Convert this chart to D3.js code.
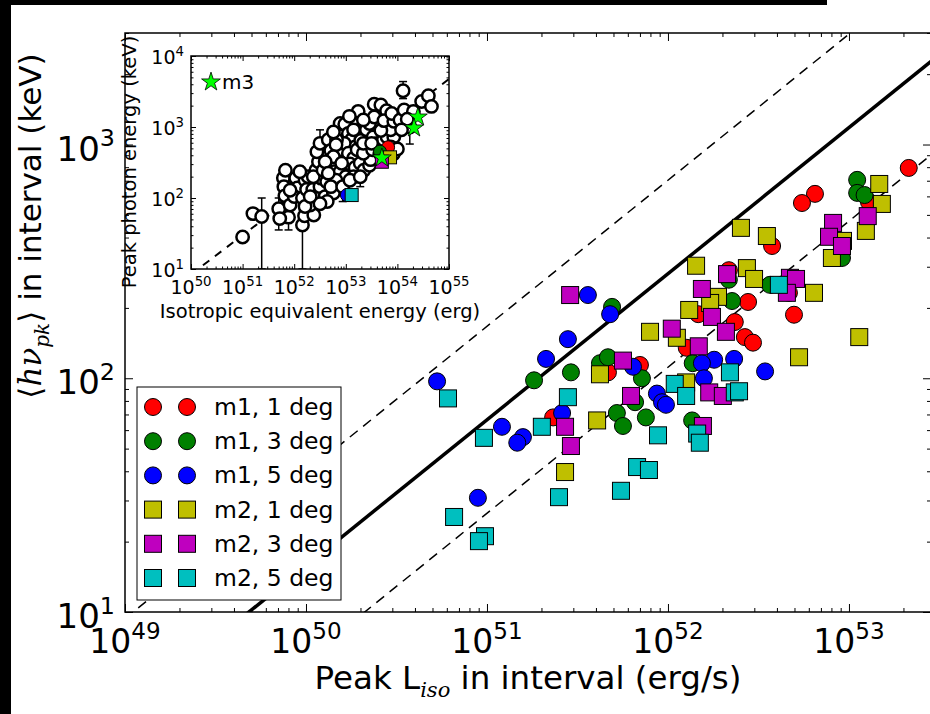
<!DOCTYPE html>
<html lang="en">
<head>
<meta charset="UTF-8">
<title>Peak photon energy vs peak luminosity</title>
<script src="https://d3js.org/d3.v7.min.js"></script>
<style>
  body { margin: 0; background: #fff; }
  text { font-family: "DejaVu Sans", sans-serif; fill: #000; }
  .math { font-family: "DejaVu Serif", serif; font-style: italic; }
</style>
</head>
<body>
<div id="chart"></div>
<script>
// main panel: [peak L_iso (erg/s), <h nu_pk> (keV)] per interval
const m1deg1 = [[2.14e53,794],[6.49e52,615],[5.50e52,562],[3.76e52,368],[2.17e52,290],[2.77e52,212],[4.97e52,187],[4.66e52,232],[2.34e52,174],[2.66e52,150],[2.95e52,142],[1.47e52,188],[1.27e52,135],[1.29e53,568],[2.32e51,68],[4.66e51,106],[7.0e51,114]];
const m1deg3 = [[1.11e53,706],[1.11e53,621],[1.22e53,608],[9.15e52,327],[3.66e52,251],[2.17e52,264],[2.26e52,214],[1.37e52,116],[4.91e51,202],[2.91e51,106],[1.82e51,98],[4.21e51,116],[4.66e51,123],[7.18e51,100],[6.58e51,79],[5.22e51,71],[5.64e51,62.5],[7.55e51,68],[1.36e52,66]];
const m1deg5 = [[3.61e51,227],[4.79e51,188],[2.80e51,147],[2.12e51,121],[5.30e50,97],[6.41e51,112],[8.69e51,86],[9.27e51,79],[9.75e51,77],[2.60e51,71],[1.21e51,62],[1.58e51,56],[1.47e51,53],[8.91e50,30.8],[1.80e52,120],[1.54e52,116],[2.32e52,121],[3.44e52,107],[1.58e52,100]];
const m2deg1 = [[1.47e53,678],[1.52e53,557],[1.24e53,427],[9.27e52,387],[8.05e52,327],[3.52e52,406],[2.53e52,440],[1.43e52,303],[2.73e52,296],[2.99e52,266],[1.89e52,223],[1.71e52,210],[1.31e52,196],[7.96e51,158],[1.12e52,149],[6.41e52,232],[1.14e53,150],[5.30e52,123],[1.26e52,96],[4.21e51,104],[4.06e51,66],[2.70e51,39.7]];
const m2deg3 = [[8.17e52,462],[7.76e52,403],[9.15e52,368],[1.27e53,494],[2.12e52,279],[1.54e52,241],[4.72e52,269],[5.10e52,266],[4.54e52,232],[1.75e52,183],[2.09e52,158],[1.05e52,163],[1.48e52,137],[1.69e52,87],[2.01e52,84],[2.88e51,227],[5.64e51,119],[6.25e51,84],[2.70e51,62],[2.91e51,51.3],[1.56e52,62.5]];
const m2deg5 = [[4.10e52,251],[2.20e52,106],[1.09e52,94.6],[1.26e52,84],[2.34e52,87],[2.47e52,88],[2.80e51,83],[6.09e50,82],[2.01e51,62],[9.62e50,55.6],[8.81e51,57],[6.75e51,41.7],[7.85e51,40.5],[5.50e51,33.0],[2.50e51,31.0],[6.58e50,25.5],[9.75e50,21.1],[9.03e50,20.1],[1.45e52,58],[1.50e52,53]];

const seriesNames = ["m1, 1 deg", "m1, 3 deg", "m1, 5 deg", "m2, 1 deg", "m2, 3 deg", "m2, 5 deg"];
const seriesColors = ["#ff0000", "#008000", "#0000ff", "#bfbf00", "#bf00bf", "#00bfbf"];
const seriesShapes = ["circle", "circle", "circle", "square", "square", "square"];
const seriesData = [m1deg1, m1deg3, m1deg5, m2deg1, m2deg3, m2deg5];

// Yonetoku-type relation: Ep = 280 keV (L/1e52)^0.625, dashed = +-0.4 dex
const relMain = { norm: 280, slope: 0.625, scatter: 0.4 };

// inset: observed bursts, [log10 Eiso (erg), log10 Ep (keV)]
const insetBursts = [[51.00,1.45],[51.20,1.78],[51.37,1.74],[51.70,1.85],[51.89,1.73],[52.16,1.62],[52.20,1.75],[52.38,1.76],
  [51.79,2.28],[51.83,2.39],[51.80,2.16],[51.82,2.03],[51.92,1.90],[52.03,2.28],[52.06,2.14],[52.00,2.02],[52.16,2.00],[52.21,2.25],
  [52.24,2.12],[52.36,2.12],[52.44,2.02],[52.50,2.16],[52.27,2.30],[52.42,2.39],[52.52,2.28],[52.63,2.23],[52.60,2.02],[52.76,2.07],
  [52.64,1.95],[52.47,2.51],[52.44,2.65],[52.50,2.77],[52.66,2.82],[52.76,2.49],[52.82,2.61],[52.89,2.68],[52.71,2.67],[52.77,2.37],
  [52.89,2.96],[52.89,3.05],[52.98,3.04],[53.05,2.91],[53.11,2.82],[53.18,2.72],[52.97,2.77],[53.05,2.63],[53.15,2.56],[53.22,2.68],
  [53.08,2.48],[53.18,2.43],[52.89,2.37],[53.00,2.30],[53.28,2.49],[53.35,2.39],[53.46,2.46],[53.48,2.54],[53.29,2.81],[53.40,2.96],
  [53.53,2.86],[53.61,2.77],[53.73,2.82],[53.80,2.86],[53.93,2.86],[53.87,2.96],[53.68,2.95],[53.24,3.22],[53.46,3.05],[53.55,3.32],
  [53.68,3.31],[53.79,3.23],[53.55,3.14],[53.74,3.09],[53.93,3.08],[53.89,3.19],[54.11,3.51],[54.05,3.10],[54.13,3.24],[54.24,3.00],
  [54.47,3.36],[54.60,3.44],[54.66,3.29],[54.31,3.22],[53.92,2.62],[53.87,2.72],[54.00,2.69],[52.81,2.25],[52.71,2.16],[52.94,2.16],
  [53.15,2.30],[52.31,1.90],[52.50,1.92],[52.21,1.88],[53.34,2.63],[53.52,2.68],[53.66,2.63],[52.82,2.82],[52.76,2.93],[53.15,2.96],
  [53.34,3.10],[53.07,3.15],[52.81,2.75],[53.34,2.77],[53.50,2.77],[52.37,2.30],[52.56,2.39],[51.72,1.71],[54.19,3.11],[54.08,2.96],
  [53.79,2.65],[53.08,2.25],[53.28,2.30],[52.76,2.58],[52.92,2.49],[52.60,2.51],[52.66,2.35],[52.31,2.02],[52.11,2.37],[51.92,2.11]];
// error bars: [log10 Eiso, log10 Ep low, log10 Ep high]
const insetErrors = [[51.00,1.38,1.52],[51.37,1.0,2.0],[51.70,1.55,2.0],[51.89,1.55,1.90],[52.16,1.0,1.83],[54.24,2.76,3.20],
  [54.11,3.40,3.64],[52.94,1.95,2.30],[53.28,2.16,2.40],[52.50,2.60,2.96],[53.55,3.20,3.38],[52.11,2.25,2.45]];
// inset model points: [Eiso (erg), Ep (keV)], order as main series
const insetModels = [[6.6e53,518],[4.6e53,449],[1.05e53,110],[7.2e53,374],[5.0e53,324],[1.3e53,110]];
const insetM3 = [[5.0e53,366],[2.5e54,1380],[2.1e54,968]];
// Amati-type relation in the inset: Ep = 106 keV (Eiso/1e52)^0.55
const relInset = { norm: 106, slope: 0.55 };

const W = 930, H = 714;
const svg = d3.select("#chart").append("svg").attr("width", W).attr("height", H);
svg.append("rect").attr("width", W).attr("height", H).attr("fill", "#fff");

// main axes
const x = d3.scaleLog().domain([1e49, 2.84e53]).range([125, 931]);
const y = d3.scaleLog().domain([10, 3000]).range([612, 33]);

function logTicks(dom) {
  const major = [], minor = [];
  const a = Math.floor(Math.log10(dom[0])), b = Math.ceil(Math.log10(dom[1]));
  for (let d = a; d <= b; d++) {
    for (let k = 1; k <= 9; k++) {
      const v = k * Math.pow(10, d);
      if (v < dom[0] * 0.999 || v > dom[1] * 1.001) continue;
      (k === 1 ? major : minor).push(v);
    }
  }
  return { major, minor };
}

function frame(g, xs, ys, maj, mnr, lw) {
  const [x0, x1] = xs.range(), [y0, y1] = ys.range();
  const xt = logTicks(xs.domain()), yt = logTicks(ys.domain());
  const sides = [
    [d3.axisBottom, xs, xt, `translate(0,${y0})`],
    [d3.axisTop, xs, xt, `translate(0,${y1})`],
    [d3.axisLeft, ys, yt, `translate(${x0},0)`],
    [d3.axisRight, ys, yt, `translate(${x1},0)`]
  ];
  sides.forEach(([ax, s, t, tr]) => {
    [[t.major, maj], [t.minor, mnr]].forEach(([vals, len]) => {
      g.append("g").attr("transform", tr)
        .call(ax(s).tickValues(vals).tickSize(-len).tickFormat(""))
        .call(a => a.select(".domain").remove())
        .selectAll("line").attr("stroke", "#000").attr("stroke-width", 1);
    });
  });
  g.append("rect").attr("x", x0).attr("y", y1).attr("width", x1 - x0).attr("height", y0 - y1)
    .attr("fill", "none").attr("stroke", "#000").attr("stroke-width", lw);
  return { xt, yt };
}

function powLabel(t, v, size) {
  t.attr("font-size", size);
  t.append("tspan").text("10");
  t.append("tspan").attr("dy", -0.42 * size).attr("font-size", 0.7 * size)
    .text(Math.round(Math.log10(v)));
}

const main = svg.append("g");
svg.append("clipPath").attr("id", "clipMain").append("rect")
  .attr("x", 125).attr("y", 33).attr("width", 806).attr("height", 579);

// relation lines
const lineMain = d3.line().x(d => x(d[0])).y(d => y(d[1]));
const relPts = off => x.domain().map(L => [L, relMain.norm * Math.pow(L / 1e52, relMain.slope) * Math.pow(10, off)]);
const lines = main.append("g").attr("clip-path", "url(#clipMain)");
lines.append("path").datum(relPts(0)).attr("d", lineMain)
  .attr("fill", "none").attr("stroke", "#000").attr("stroke-width", 3.5);
[relMain.scatter, -relMain.scatter].forEach(off => {
  lines.append("path").datum(relPts(off)).attr("d", lineMain)
    .attr("fill", "none").attr("stroke", "#000").attr("stroke-width", 1.5).attr("stroke-dasharray", "10,7");
});

// markers
function marker(sel, shape, size) {
  if (shape === "circle") return sel.append("circle").attr("r", size / 2);
  return sel.append("rect").attr("x", -size / 2).attr("y", -size / 2).attr("width", size).attr("height", size);
}
const pts = main.append("g");
seriesData.forEach((data, i) => {
  data.forEach(d => {
    const g = pts.append("g").attr("transform", `translate(${x(d[0])},${y(d[1])})`);
    marker(g, seriesShapes[i], 17).attr("fill", seriesColors[i]).attr("stroke", "#000").attr("stroke-width", 1);
  });
});

const mt = frame(main, x, y, 8, 4, 1.5);
mt.xt.major.forEach(v => powLabel(main.append("text").attr("x", x(v)).attr("y", 653).attr("text-anchor", "middle"), v, 33));
mt.yt.major.forEach(v => powLabel(main.append("text").attr("x", 115).attr("y", y(v) + 16).attr("text-anchor", "end"), v, 34));

// axis titles
const xl = main.append("text").attr("x", 528).attr("y", 689).attr("text-anchor", "middle").attr("font-size", 32.5);
xl.append("tspan").text("Peak L");
xl.append("tspan").attr("class", "math").attr("font-size", 21).attr("dy", 8).text("iso");
xl.append("tspan").attr("dy", -8).text(" in interval (erg/s)");

const yl = main.append("text").attr("transform", "translate(41,226) rotate(-90)")
  .attr("text-anchor", "middle").attr("font-size", 31);
yl.append("tspan").attr("font-family", "DejaVu Sans").text("\u27E8");
yl.append("tspan").attr("class", "math").text("h\u03BD");
yl.append("tspan").attr("class", "math").attr("font-size", 20).attr("dy", 8).text("pk");
yl.append("tspan").attr("dy", -8).text("\u27E9 in interval (keV)");

// legend
const leg = main.append("g").attr("transform", "translate(137,387)");
leg.append("rect").attr("width", 204).attr("height", 213).attr("fill", "#fff").attr("stroke", "#000").attr("stroke-width", 1);
seriesNames.forEach((name, i) => {
  const cy = 20 + i * 34.2;
  [16, 50].forEach(cx => {
    const g = leg.append("g").attr("transform", `translate(${cx},${cy})`);
    marker(g, seriesShapes[i], 17).attr("fill", seriesColors[i]).attr("stroke", "#000").attr("stroke-width", 1);
  });
  leg.append("text").attr("x", 77).attr("y", cy + 8).attr("font-size", 23.5).text(name);
});

// inset
const ix = d3.scaleLog().domain([1e50, 1e55]).range([191, 449]);
const iy = d3.scaleLog().domain([10, 1e4]).range([269, 56]);
const inset = svg.append("g");
inset.append("rect").attr("x", 191).attr("y", 56).attr("width", 258).attr("height", 213).attr("fill", "#fff");
svg.append("clipPath").attr("id", "clipInset").append("rect")
  .attr("x", 191).attr("y", 56).attr("width", 258).attr("height", 213);
const ic = inset.append("g").attr("clip-path", "url(#clipInset)");
const amati = ix.domain().map(E => [E, relInset.norm * Math.pow(E / 1e52, relInset.slope)]);
ic.append("path").datum(amati).attr("d", d3.line().x(d => ix(d[0])).y(d => iy(d[1])))
  .attr("fill", "none").attr("stroke", "#000").attr("stroke-width", 2).attr("stroke-dasharray", "8,7");

insetErrors.forEach(e => {
  const px = ix(Math.pow(10, e[0])), lo = iy(Math.pow(10, e[1])), hi = iy(Math.pow(10, e[2]));
  ic.append("line").attr("x1", px).attr("x2", px).attr("y1", lo).attr("y2", hi).attr("stroke", "#000").attr("stroke-width", 1.5);
  [lo, hi].forEach(yy => ic.append("line").attr("x1", px - 4).attr("x2", px + 4).attr("y1", yy).attr("y2", yy)
    .attr("stroke", "#000").attr("stroke-width", 1.5));
});
insetBursts.forEach(d => {
  ic.append("circle").attr("cx", ix(Math.pow(10, d[0]))).attr("cy", iy(Math.pow(10, d[1]))).attr("r", 6.2)
    .attr("fill", "#fff").attr("stroke", "#000").attr("stroke-width", 2.5);
});
insetModels.forEach((d, i) => {
  const g = ic.append("g").attr("transform", `translate(${ix(d[0])},${iy(d[1])})`);
  marker(g, seriesShapes[i], 13).attr("fill", seriesColors[i]).attr("stroke", "#000").attr("stroke-width", 1);
});
const star = d3.symbol().type(d3.symbolStar).size(110);
insetM3.forEach(d => {
  ic.append("path").attr("d", star).attr("transform", `translate(${ix(d[0])},${iy(d[1])})`)
    .attr("fill", "#00ff00").attr("stroke", "#000").attr("stroke-width", 0.8);
});
inset.append("path").attr("d", star).attr("transform", "translate(211,82)")
  .attr("fill", "#00ff00").attr("stroke", "#000").attr("stroke-width", 0.8);
inset.append("text").attr("x", 222).attr("y", 89).attr("font-size", 20).text("m3");

const it = frame(inset, ix, iy, 5, 2.5, 1.5);
it.xt.major.forEach(v => powLabel(inset.append("text").attr("x", ix(v)).attr("y", 294).attr("text-anchor", "middle"), v, 19));
it.yt.major.forEach(v => powLabel(inset.append("text").attr("x", 184).attr("y", iy(v) + 8).attr("text-anchor", "end"), v, 19));
inset.append("text").attr("x", 320).attr("y", 318).attr("text-anchor", "middle").attr("font-size", 19.5)
  .text("Isotropic equivalent energy (erg)");
inset.append("text").attr("transform", "translate(136,162) rotate(-90)").attr("text-anchor", "middle")
  .attr("font-size", 19.5).text("Peak photon energy (keV)");

// black strips along the top and left edges
svg.append("rect").attr("x", 0).attr("y", 0).attr("width", 827).attr("height", 5).attr("fill", "#000");
svg.append("rect").attr("x", 0).attr("y", 0).attr("width", 11).attr("height", H).attr("fill", "#000");
</script>
</body>
</html>
